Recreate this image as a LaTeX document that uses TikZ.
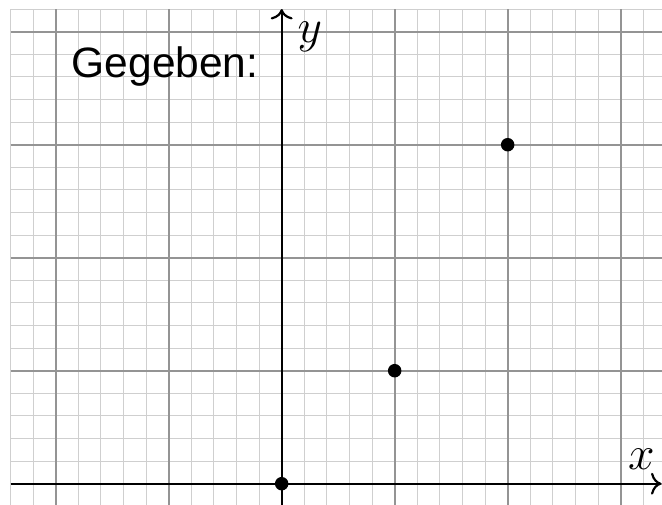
\documentclass[tikz,border=0pt]{standalone}
\usepackage{fontspec}
\newfontfamily\labelfont{Liberation Sans}
\usetikzlibrary{arrows.meta}
\tikzset{
  minorgrid/.style={draw=black!19, line width=0.25pt},
  majorgrid/.style={draw=black!42, line width=0.45pt},
  axisline/.style={draw=black, line width=0.55pt, -{Computer Modern Rightarrow[width=5.5pt,length=2.6pt]}},
  pointdot/.style={circle, fill=black, inner sep=0pt, minimum size=3.4pt},
  mathlabel/.style={inner sep=0pt, anchor=base west, font=\fontsize{11.5}{13}\selectfont},
  textlabel/.style={inner sep=0pt, anchor=base west, font=\labelfont\fontsize{10.7}{12.5}\selectfont}
}
\begin{document}
\begin{tikzpicture}
\useasboundingbox (-2.493,-0.180) rectangle (3.366,4.281);
\begin{scope}
\clip (-2.493,-0.180) rectangle (3.366,4.281);
\foreach \i in {-12,...,17} {
  \draw[minorgrid] (\i*0.2,-0.4) -- (\i*0.2,4.2);
}
\foreach \j in {-2,...,21} {
  \draw[minorgrid] (-2.4,\j*0.2) -- (3.4,\j*0.2);
}
\foreach \i in {-2,...,3} {
  \draw[majorgrid] (\i,-0.4) -- (\i,4.2);
}
\foreach \j in {0,...,4} {
  \draw[majorgrid] (-2.4,\j) -- (3.4,\j);
}
\coordinate (xs) at (-2.4,0);
\coordinate (xe) at (3.36,0);
\coordinate (ys) at (0,-0.4);
\coordinate (ye) at (0,4.2);
\draw[axisline] (xs) -- (xe);
\draw[axisline] (ys) -- (ye);
\end{scope}
\node[mathlabel] (ylab) at (0.135,3.903) {$y$};
\node[mathlabel] (xlab) at (3.060,0.130) {$x$};
\node[textlabel] (title) at (-1.865,3.595) {Gegeben:};
\node[pointdot] (p0) at (0,0) {};
\node[pointdot] (p1) at (1,1) {};
\node[pointdot] (p2) at (2,3) {};
\end{tikzpicture}
\end{document}
